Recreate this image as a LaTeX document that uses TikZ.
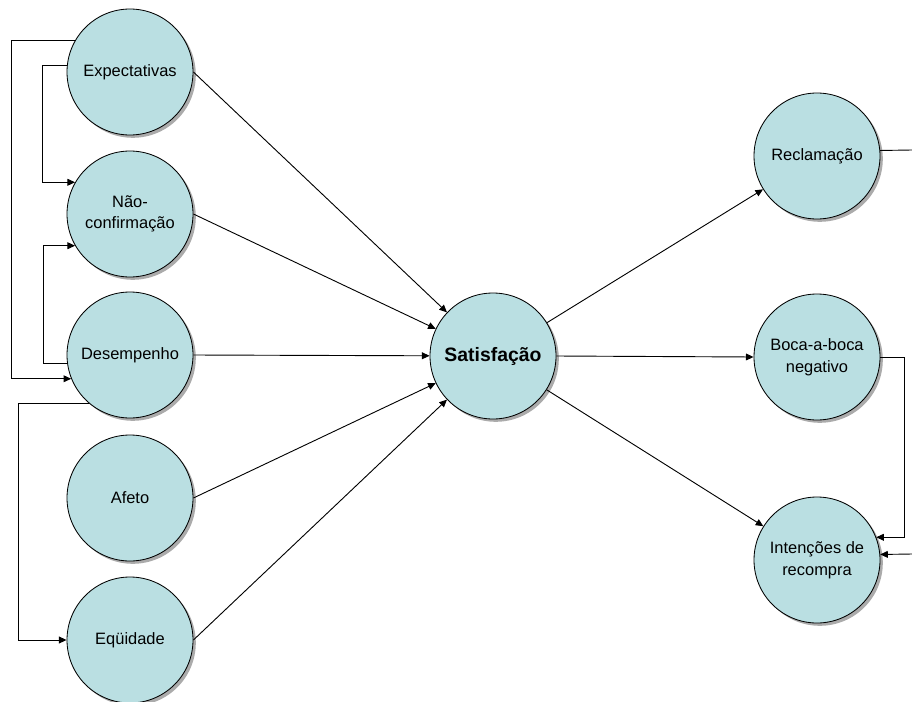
\documentclass[tikz,border=0pt]{standalone}
\usepackage{fontspec}
\setmainfont{Liberation Sans}
\usepackage{tikz}
\usetikzlibrary{arrows.meta,shadows}

\definecolor{bubblefill}{RGB}{186,223,226}

\begin{document}
\begin{tikzpicture}[
    bubble/.style={circle, draw=black, fill=bubblefill, line width=0.6pt,
      minimum size=3.15cm, inner sep=0pt, align=center,
      font=\fontsize{11.7pt}{15.4pt}\selectfont,
      drop shadow={shadow xshift=0.07cm, shadow yshift=-0.07cm, opacity=0.6, fill=black!55}},
    link/.style={draw=black, line width=0.65pt},
    arr/.style={link, -{Triangle[length=1.9mm,width=1.7mm]}}]
  \useasboundingbox (0,0) rectangle (22.8,-17.55);

  \node[bubble] at (3.25,-1.8) (exp) {Expectativas};
  \node[bubble] at (3.25,-5.35) (nao) {Não-\\confirmação};
  \node[bubble] at (3.25,-8.875) (des) {Desempenho};
  \node[bubble] at (3.25,-12.45) (afe) {Afeto};
  \node[bubble] at (3.25,-16.0) (equ) {Eqüidade};

  \node[bubble, font=\fontsize{13.8pt}{16pt}\selectfont\bfseries] at (12.325,-8.9) (sat) {Satisfação};

  \node[bubble] at (20.425,-3.9) (rec) {Reclamação};
  \node[bubble] at (20.425,-8.925) (boc) {Boca-a-boca\\negativo};
  \node[bubble] at (20.425,-14.0) (int) {Intenções de\\recompra};

  \coordinate (recout) at (22.8,-3.75);
  \coordinate (intin) at (22.8,-13.85);

  \draw[arr] (exp.east) -- (sat);
  \draw[arr] (nao.east) -- (sat);
  \draw[arr] (des.east) -- (sat);
  \draw[arr] (afe.east) -- (sat);
  \draw[arr] (equ.east) -- (sat);

  \draw[arr] (sat) -- (rec);
  \draw[arr] (sat.east) -- (boc.west);
  \draw[arr] (sat) -- (int);

  \draw[arr] (exp.150) -- ++(-1.59,0) |- (des.202);
  \draw[arr] (exp.174) -- ++(-0.6,0) |- (nao.150);
  \draw[arr] (des.188) -- ++(-0.6,0) |- (nao.210);
  \draw[arr] (des.230) -- ++(-1.76,0) |- (equ.west);

  \draw[link] (rec.5) -- (recout);
  \draw[arr] (boc.east) -- ++(0.6,0) |- (int.21);
  \draw[arr] (intin) -- (int.5);
\end{tikzpicture}
\end{document}
